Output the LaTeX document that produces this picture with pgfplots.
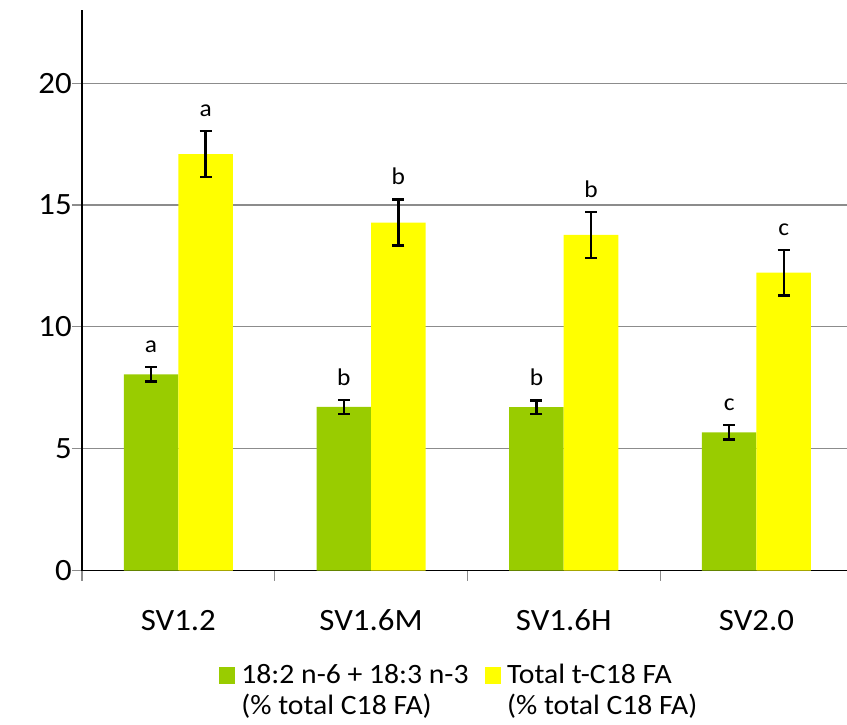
\documentclass[border=0pt]{standalone}
\usepackage{fontspec}
\setmainfont{Carlito}[FakeStretch=1.06]
\usepackage{pgfplots}
\usepackage{pgfplotstable}
\pgfplotsset{compat=1.18}
\definecolor{cgreen}{HTML}{99CC00}
\definecolor{cyellow}{HTML}{FFFF00}
\definecolor{cgrid}{HTML}{8C8C8C}

\pgfplotstableread{
x y err
-0.1415 8.05 0.29
0.8585 6.71 0.28
1.8585 6.70 0.27
2.8585 5.67 0.29
}\greentab
\pgfplotstableread{
x y err
0.1415 17.09 0.94
1.1415 14.28 0.95
2.1415 13.77 0.94
3.1415 12.22 0.93
}\yellowtab
\pgfplotstableread{
x y lab
-0.1415 8.34 a
0.8585 6.99 b
1.8585 6.97 b
2.8585 5.96 c
}\greenlab
\pgfplotstableread{
x y lab
0.1415 18.03 a
1.1415 15.23 b
2.1415 14.71 b
3.1415 13.15 c
}\yellowlab

\pgfplotsset{sqlegend/.style={legend image code/.code={\fill[##1] (0bp,6.5bp) rectangle (16.5bp,23bp);}}}

\begin{document}
\begin{tikzpicture}
\begin{axis}[
  scale only axis, width=765bp, height=560.5bp,
  at={(0,0)}, anchor=south west,
  xmin=-0.5, xmax=3.47, ymin=0, ymax=23,
  axis x line*=bottom, axis y line*=left,
  axis line style={black, line width=1.3bp, -},
  ytick={0,5,10,15,20},
  ymajorgrids, grid style={cgrid, line width=1.1bp},
  xtick={0,1,2,3}, xticklabels={SV1.2,SV1.6M,SV1.6H,SV2.0},
  minor xtick={-0.5,0.5,1.5,2.5},
  tick align=outside,
  major tick length=10bp, minor tick length=10bp,
  every major x tick/.style={draw=none},
  every minor x tick/.style={cgrid, line width=1.1bp},
  every major y tick/.style={cgrid, line width=1.1bp},
  /pgf/number format/assume math mode=true,
  tick label style={font=\fontsize{31bp}{33bp}\selectfont, inner sep=0pt},
  yticklabel style={anchor=east},
  xticklabel style={anchor=base, yshift=-49.5bp},
  legend columns=2,
  legend cell align=left,
  legend style={draw=none, fill=none, inner sep=0pt,
    at={(axis description cs:0.493,-0.163)}, anchor=north,
    font=\fontsize{28bp}{31bp}\selectfont,
    cells={align=left, inner sep=0pt},
    /tikz/every odd column/.style={column sep=4bp},
    /tikz/every even column/.style={column sep=14bp}},
]
\addplot[ybar, bar width=0.283, bar shift=0pt, fill=cgreen, draw=none, sqlegend,
  error bars/.cd, y dir=both, y explicit,
  error bar style={black, line width=2.4bp},
  error mark options={black, rotate=90, mark size=6bp, line width=2.4bp}]
  table[x=x, y=y, y error=err] {\greentab};
\addlegendentry{18:2 n-6 + 18:3 n-3\\(\% total C18 FA)}
\addplot[ybar, bar width=0.283, bar shift=0pt, fill=cyellow, draw=none, sqlegend,
  error bars/.cd, y dir=both, y explicit,
  error bar style={black, line width=2.4bp},
  error mark options={black, rotate=90, mark size=6bp, line width=2.4bp}]
  table[x=x, y=y, y error=err] {\yellowtab};
\addlegendentry{Total t-C18 FA\\(\% total C18 FA)}
\addplot[draw=none, mark=none, forget plot, nodes near coords, point meta=explicit symbolic,
  nodes near coords style={anchor=base, inner sep=0pt, yshift=15bp, font=\fontsize{24bp}{26bp}\selectfont, text=black}]
  table[x=x, y=y, meta=lab] {\greenlab};
\addplot[draw=none, mark=none, forget plot, nodes near coords, point meta=explicit symbolic,
  nodes near coords style={anchor=base, inner sep=0pt, yshift=15bp, font=\fontsize{24bp}{26bp}\selectfont, text=black}]
  table[x=x, y=y, meta=lab] {\yellowlab};
\end{axis}
\pgfresetboundingbox
\useasboundingbox (-82bp,-154.5bp) rectangle (765bp,570.5bp);
\end{tikzpicture}
\end{document}
